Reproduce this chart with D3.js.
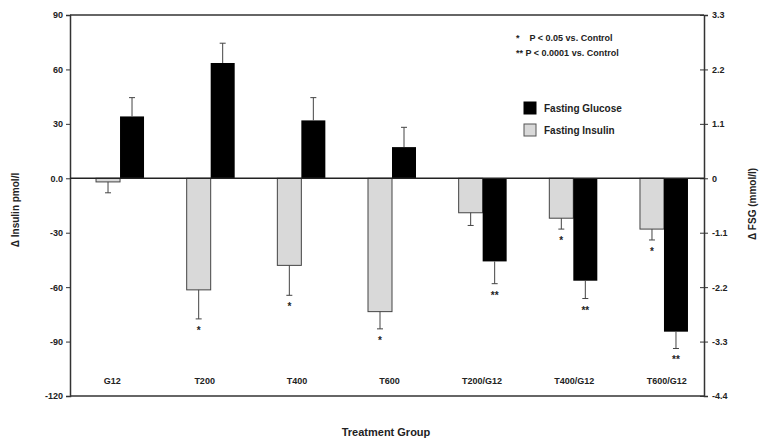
<!DOCTYPE html>
<html>
<head>
<meta charset="utf-8">
<script src="https://cdn.jsdelivr.net/npm/d3@7"></script>
<style>
  body { margin: 0; background: #fff; }
  text { font-family: "Liberation Sans", Arial, sans-serif; font-weight: bold; fill: #222; white-space: pre; }
</style>
</head>
<body>
<div class="chart"></div>
<script>
// data
const categories = ['G12', 'T200', 'T400', 'T600', 'T200/G12', 'T400/G12', 'T600/G12'];
const insulin = [-2, -61.5, -48, -73.5, -19, -22, -28];          // pmol/l
const insulinErr = [6, 16, 16.5, 9.5, 7, 6, 6];
const glucose = [1.25, 2.33, 1.17, 0.63, -1.68, -2.07, -3.1];     // mmol/l
const glucoseErr = [0.38, 0.4, 0.46, 0.4, 0.45, 0.36, 0.34];
const insulinSig = ['', '*', '*', '*', '', '*', '*'];
const glucoseSig = ['', '', '', '', '**', '**', '**'];
const leftTicks = [90, 60, 30, 0, -30, -60, -90, -120];
const rightTicks = [3.3, 2.2, 1.1, 0, -1.1, -2.2, -3.3, -4.4];

const width = 759, height = 441;
const pLeft = 70, pRight = 704, pTop = 15, pBottom = 396;

const svg = d3.select('.chart').append('svg')
  .attr('width', width)
  .attr('height', height);

const yL = d3.scaleLinear().domain([-120, 90]).range([pBottom, pTop]);
const yR = d3.scaleLinear().domain([-4.4, 3.3]).range([pBottom, pTop]);
const x = d3.scaleBand().domain(categories).range([74.7, 709.3]);
const xLab = d3.scaleBand().domain(categories).range([66, 713]); // labels sit a touch left
const bw = 24;

const rows = categories.map((c, i) => ({
  c, ins: insulin[i], insE: insulinErr[i], glu: glucose[i], gluE: glucoseErr[i],
  insS: insulinSig[i], gluS: glucoseSig[i]
}));

// frame: top and bottom lines
svg.append('line').attr('x1', pLeft).attr('x2', pRight).attr('y1', pTop).attr('y2', pTop)
  .attr('stroke', '#333').attr('stroke-width', 1.5);
svg.append('line').attr('x1', pLeft).attr('x2', pRight).attr('y1', pBottom).attr('y2', pBottom)
  .attr('stroke', '#333').attr('stroke-width', 1.5);

// left axis
const gL = svg.append('g').attr('transform', `translate(${pLeft},0)`)
  .call(d3.axisLeft(yL).tickValues(leftTicks).tickSize(4)
    .tickFormat(d => d === 0 ? '0.0' : d));
gL.select('.domain').attr('stroke', '#333').attr('stroke-width', 1.5);
gL.selectAll('.tick line').attr('stroke', '#333');
gL.selectAll('.tick text').attr('font-size', 9).attr('x', -7);

// right axis
const gR = svg.append('g').attr('transform', `translate(${pRight},0)`)
  .call(d3.axisRight(yR).tickValues(rightTicks).tickSize(4).tickFormat(d => d));
gR.select('.domain').attr('stroke', '#333').attr('stroke-width', 1.5);
gR.selectAll('.tick line').attr('stroke', '#333').attr('x1', -4);
gR.selectAll('.tick text').attr('font-size', 9).attr('x', 8);

// insulin bars (grey, left axis)
svg.selectAll('rect.ins')
  .data(rows)
  .enter()
  .append('rect')
  .attr('class', 'ins')
  .attr('x', d => x(d.c) + x.bandwidth() / 2 - bw)
  .attr('y', d => Math.min(yL(d.ins), yL(0)))
  .attr('width', bw)
  .attr('height', d => Math.abs(yL(d.ins) - yL(0)))
  .attr('fill', '#d9d9d9')
  .attr('stroke', '#444')
  .attr('stroke-width', 1);

// glucose bars (black, right axis)
svg.selectAll('rect.glu')
  .data(rows)
  .enter()
  .append('rect')
  .attr('class', 'glu')
  .attr('x', d => x(d.c) + x.bandwidth() / 2)
  .attr('y', d => Math.min(yR(d.glu), yR(0)))
  .attr('width', bw)
  .attr('height', d => Math.abs(yR(d.glu) - yR(0)))
  .attr('fill', '#000');

// zero line
svg.append('line').attr('x1', pLeft).attr('x2', pRight).attr('y1', yL(0)).attr('y2', yL(0))
  .attr('stroke', '#222').attr('stroke-width', 1.5);

// error bars, one-sided
function errBars(cls, cx, y0, y1) {
  const g = svg.selectAll('g.' + cls).data(rows).enter().append('g').attr('class', cls);
  g.append('line')
    .attr('x1', cx).attr('x2', cx).attr('y1', y0).attr('y2', y1)
    .attr('stroke', '#444').attr('stroke-width', 1);
  g.append('line')
    .attr('x1', d => cx(d) - 3).attr('x2', d => cx(d) + 3).attr('y1', y1).attr('y2', y1)
    .attr('stroke', '#444').attr('stroke-width', 1);
}
const insX = d => x(d.c) + x.bandwidth() / 2 - bw / 2;
const gluX = d => x(d.c) + x.bandwidth() / 2 + bw / 2;
const sgn = v => v < 0 ? -1 : 1;
errBars('einz', insX, d => yL(d.ins), d => yL(d.ins + sgn(d.ins) * d.insE));
errBars('eglu', gluX, d => yR(d.glu), d => yR(d.glu + sgn(d.glu) * d.gluE));

// significance marks
svg.selectAll('text.sins')
  .data(rows.filter(d => d.insS))
  .enter()
  .append('text')
  .text(d => d.insS)
  .attr('x', insX)
  .attr('y', d => yL(d.ins - d.insE) + 15)
  .attr('text-anchor', 'middle')
  .attr('font-size', 10);
svg.selectAll('text.sglu')
  .data(rows.filter(d => d.gluS))
  .enter()
  .append('text')
  .text(d => d.gluS)
  .attr('x', gluX)
  .attr('y', d => yR(d.glu - d.gluE) + 15)
  .attr('text-anchor', 'middle')
  .attr('font-size', 10);

// category labels
svg.selectAll('text.cat')
  .data(categories)
  .enter()
  .append('text')
  .text(d => d)
  .attr('x', d => xLab(d) + xLab.bandwidth() / 2)
  .attr('y', 384)
  .attr('text-anchor', 'middle')
  .attr('font-size', 9);

// axis titles
svg.append('text').text('Treatment Group')
  .attr('x', 386).attr('y', 436).attr('text-anchor', 'middle').attr('font-size', 11);
svg.append('text').text('Δ Insulin pmol/l')
  .attr('transform', 'translate(19,210) rotate(-90)')
  .attr('text-anchor', 'middle').attr('font-size', 10);
svg.append('text').text('Δ FSG (mmol/l)')
  .attr('transform', 'translate(756,204) rotate(-90)')
  .attr('text-anchor', 'middle').attr('font-size', 10);

// p-value notes
svg.append('text').text('*    P < 0.05 vs. Control')
  .attr('x', 516).attr('y', 41).attr('font-size', 9);
svg.append('text').text('** P < 0.0001 vs. Control')
  .attr('x', 516).attr('y', 56).attr('font-size', 9);

// legend
const legend = [
  { label: 'Fasting Glucose', fill: '#000', stroke: '#000' },
  { label: 'Fasting Insulin', fill: '#d9d9d9', stroke: '#555' }
];
const lg = svg.selectAll('g.legend').data(legend).enter().append('g')
  .attr('class', 'legend')
  .attr('transform', (d, i) => `translate(524,${102 + i * 22})`);
lg.append('rect').attr('width', 12).attr('height', 12)
  .attr('fill', d => d.fill).attr('stroke', d => d.stroke);
lg.append('text').text(d => d.label).attr('x', 20).attr('y', 10).attr('font-size', 10);
</script>
</body>
</html>
